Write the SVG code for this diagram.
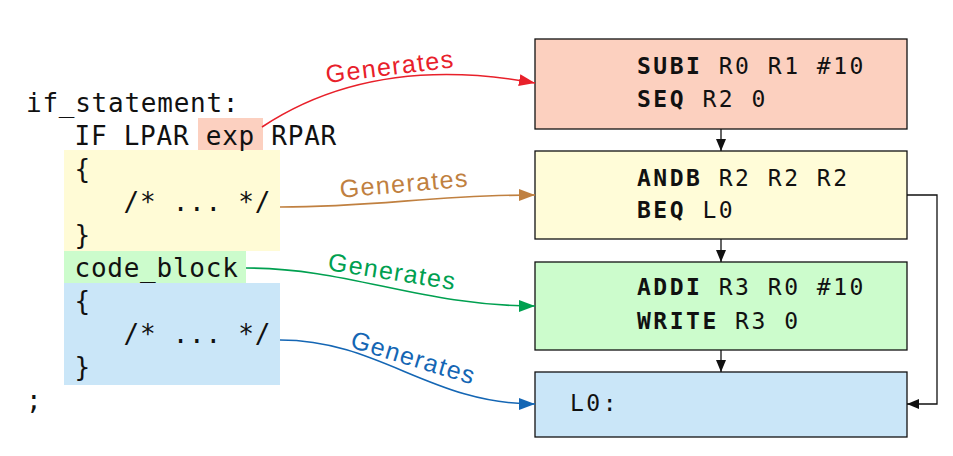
<svg xmlns="http://www.w3.org/2000/svg" width="953" height="456" viewBox="0 0 953 456">
<style>
.code{font-family:"DejaVu Sans Mono","Liberation Mono",monospace;font-size:26px;letter-spacing:0.75px;fill:#111}
.asm{font-family:"DejaVu Sans Mono","Liberation Mono",monospace;font-size:23px;letter-spacing:2.5px;fill:#111}
.asm .b{font-weight:bold}
.box{stroke:#111;stroke-width:1.3}
.lbl{font-family:"Liberation Sans",Arial,sans-serif;font-size:25px;letter-spacing:1.4px;text-anchor:middle}
.flow{fill:none;stroke:#111;stroke-width:1.3}
.gen{fill:none;stroke-width:1.6}
</style>
<defs>
<marker id="ak" viewBox="0 0 12 10" refX="12" refY="5" markerWidth="12" markerHeight="10" markerUnits="userSpaceOnUse" orient="auto"><path d="M0,0L12,5L0,10z" fill="#111"/></marker>
<marker id="ar" viewBox="0 0 16 12" refX="16" refY="6" markerWidth="16" markerHeight="12" markerUnits="userSpaceOnUse" orient="auto"><path d="M0,0L16,6L0,12z" fill="#e8202a"/></marker>
<marker id="ab" viewBox="0 0 16 12" refX="16" refY="6" markerWidth="16" markerHeight="12" markerUnits="userSpaceOnUse" orient="auto"><path d="M0,0L16,6L0,12z" fill="#c08040"/></marker>
<marker id="ag" viewBox="0 0 16 12" refX="16" refY="6" markerWidth="16" markerHeight="12" markerUnits="userSpaceOnUse" orient="auto"><path d="M0,0L16,6L0,12z" fill="#00a050"/></marker>
<marker id="au" viewBox="0 0 16 12" refX="16" refY="6" markerWidth="16" markerHeight="12" markerUnits="userSpaceOnUse" orient="auto"><path d="M0,0L16,6L0,12z" fill="#1466b4"/></marker>
</defs>
<rect width="953" height="456" fill="#fff"/>
<g id="code">
<rect x="198" y="118" width="65" height="32" fill="#fcd0c0"/>
<rect x="64" y="150" width="216" height="101" fill="#fffbd6"/>
<rect x="64" y="251" width="182" height="32" fill="#ccfccc"/>
<rect x="64" y="283" width="216" height="102" fill="#cae6f8"/>
<text class="code" x="26" y="112">if_statement:</text>
<text class="code" x="74.5" y="145">IF LPAR exp RPAR</text>
<text class="code" x="74.5" y="178">{</text>
<text class="code" x="123.5" y="211">/* ... */</text>
<text class="code" x="74.5" y="244">}</text>
<text class="code" x="74.5" y="277">code_block</text>
<text class="code" x="74.5" y="310">{</text>
<text class="code" x="123.5" y="343">/* ... */</text>
<text class="code" x="74.5" y="376">}</text>
<text class="code" x="26" y="409">;</text>
</g>
<g id="b1">
<rect class="box" x="535" y="39" width="372" height="90" fill="#fcd0bf"/>
<text class="asm" x="637" y="74"><tspan class="b">SUBI</tspan> R0 R1 #10</text>
<text class="asm" x="637" y="107"><tspan class="b">SEQ</tspan> R2 0</text>
</g>
<g id="b2">
<rect class="box" x="535" y="151" width="372" height="88" fill="#fffcd8"/>
<text class="asm" x="637" y="186"><tspan class="b">ANDB</tspan> R2 R2 R2</text>
<text class="asm" x="637" y="218"><tspan class="b">BEQ</tspan> L0</text>
</g>
<g id="b3">
<rect class="box" x="535" y="262" width="372" height="88" fill="#ccfccc"/>
<text class="asm" x="637" y="295"><tspan class="b">ADDI</tspan> R3 R0 #10</text>
<text class="asm" x="637" y="329"><tspan class="b">WRITE</tspan> R3 0</text>
</g>
<g id="b4">
<rect class="box" x="535" y="372" width="372" height="65" fill="#cae6f8"/>
<text class="asm" x="570" y="411">L0:</text>
</g>
<g id="connectors">
<path class="flow" d="M721,129V151" marker-end="url(#ak)"/>
<path class="flow" d="M721,239V262" marker-end="url(#ak)"/>
<path class="flow" d="M721,350V372" marker-end="url(#ak)"/>
<path class="flow" d="M907,195H937V404H907" marker-end="url(#ak)"/>
<path class="gen" stroke="#e8202a" d="M262,127C330,82 420,62 535,83" marker-end="url(#ar)"/>
<path class="gen" stroke="#c08040" d="M280,207C380,207 430,195 535,195" marker-end="url(#ab)"/>
<path class="gen" stroke="#00a050" d="M246,268C350,268 420,306 535,306" marker-end="url(#ag)"/>
<path class="gen" stroke="#1466b4" d="M280,340C380,340 430,404 535,404" marker-end="url(#au)"/>
<text class="lbl" fill="#e8202a" transform="translate(391,75) rotate(-7)">Generates</text>
<text class="lbl" fill="#c08040" transform="translate(405,192) rotate(-5)">Generates</text>
<text class="lbl" fill="#00a050" transform="translate(391,280) rotate(9)">Generates</text>
<text class="lbl" fill="#1466b4" transform="translate(411,366) rotate(17)">Generates</text>
</g>
</svg>
